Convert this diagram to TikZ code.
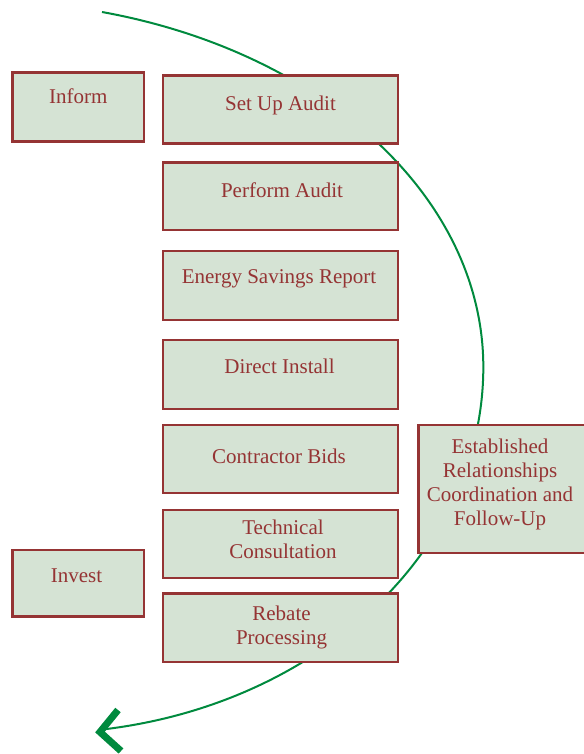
\documentclass[tikz,border=0pt]{standalone}
\usepackage{fontspec}
\setmainfont{Liberation Serif}
\definecolor{boxfill}{RGB}{213,227,212}
\definecolor{boxred}{RGB}{149,52,52}
\definecolor{arcgreen}{RGB}{0,138,62}
\newcommand\lstack[1]{\begin{tabular}[t]{@{}c@{}}#1\end{tabular}}
\begin{document}
\begin{tikzpicture}[x=1pt,y=-1pt,
  stepbox/.style={draw=boxred, line width=2.5pt, fill=boxfill, rectangle, inner sep=0pt},
  txt/.style={text=boxred, font=\fontsize{21}{24}\selectfont, inner sep=0pt, anchor=base},
  arcline/.style={draw=arcgreen, line width=2pt},
  chev/.style={draw=arcgreen, line width=7pt, miter limit=10}]
\useasboundingbox (0,0) rectangle (583,754);
% curve behind the boxes
\coordinate (arcstart) at (102,12);
\coordinate (tip) at (100,732);
\draw[arcline] (arcstart) arc[start angle=-76, end angle=0, x radius=503, y radius=366]
  coordinate (arcright)
  arc[start angle=0, end angle=81.8, x radius=443, y radius=366] coordinate (arcend);
\draw[chev] (tip) ++(18,-22) -- (tip) -- ++(21,19);
% boxes
\node[stepbox, minimum width=131.7pt, minimum height=69.4pt] (inform) at (78.2,107) {};
\node[stepbox, minimum width=235pt, minimum height=68pt] (setup) at (280.5,109.5) {};
\node[stepbox, minimum width=235pt, minimum height=67.3pt] (perform) at (280.5,196.4) {};
\node[stepbox, minimum width=235pt, minimum height=69pt] (energy) at (280.5,285.5) {};
\node[stepbox, minimum width=235pt, minimum height=69pt] (direct) at (280.5,374.5) {};
\node[stepbox, minimum width=235pt, minimum height=68pt] (contractor) at (280.5,459) {};
\node[stepbox, minimum width=235pt, minimum height=68pt] (technical) at (280.5,544) {};
\node[stepbox, minimum width=235pt, minimum height=68.7pt] (rebate) at (280.5,627.7) {};
\node[stepbox, minimum width=131.7pt, minimum height=66.7pt] (invest) at (78.2,583.3) {};
\node[stepbox, minimum width=168pt, minimum height=127.7pt] (established) at (502.3,488.9) {};
% texts
\node[txt] (tinform) at (78.2,103.3) {Inform};
\node[txt] (tsetup) at (280.5,111) {Set Up Audit};
\node[txt] (tperform) at (282,197.3) {Perform Audit};
\node[txt] (tenergy) at (279,283.3) {Energy Savings Report};
\node[txt] (tdirect) at (279.5,373.3) {Direct Install};
\node[txt] (tcontractor) at (279,463) {Contractor Bids};
\node[txt] (ttechnical) at (283,534.3) {\lstack{Technical\\Consultation}};
\node[txt] (trebate) at (281.5,620.7) {\lstack{Rebate\\Processing}};
\node[txt] (tinvest) at (76.5,582.3) {Invest};
\node[txt] (testablished) at (500,453.3) {\lstack{Established\\Relationships\\Coordination and\\Follow-Up}};
\end{tikzpicture}
\end{document}
